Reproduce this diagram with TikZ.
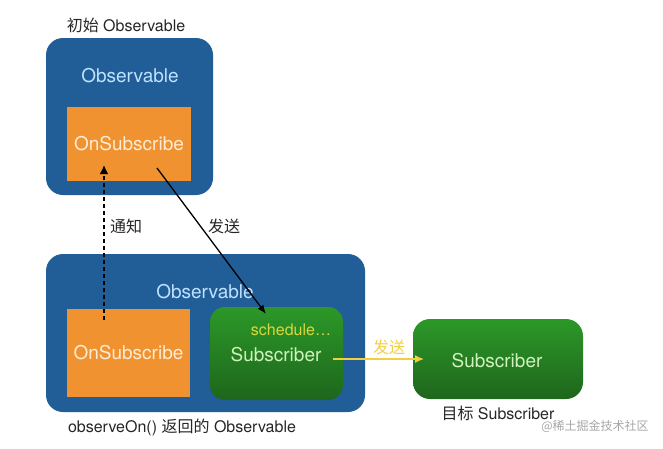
\documentclass[tikz,border=0pt]{standalone}
\usepackage{fontspec}
\setmainfont{TeX Gyre Heros}
\newfontfamily\cjk{Noto Sans CJK SC}
\usepackage{xcolor}
\usepackage{tikz}
\usetikzlibrary{arrows.meta, positioning}
\definecolor{obsblue}{RGB}{33,94,152}
\definecolor{subsorange}{RGB}{240,146,48}
\definecolor{bluetext}{RGB}{192,226,255}
\definecolor{orangetext}{RGB}{255,236,212}
\definecolor{greentop}{RGB}{44,152,40}
\definecolor{greenbot}{RGB}{30,102,28}
\definecolor{greentext}{RGB}{208,242,190}
\definecolor{schedtext}{RGB}{214,216,62}
\definecolor{sendyellow}{RGB}{242,206,66}
\tikzset{
  obsbox/.style={fill=obsblue, rounded corners=17pt, inner sep=0pt},
  onsubbox/.style={fill=subsorange, inner sep=0pt, text=orangetext, font=\fontsize{19}{19}\selectfont},
  subbox/.style={top color=greentop, bottom color=greenbot, rounded corners=15pt, inner sep=0pt},
  boxtitle/.style={font=\fontsize{19}{19}\selectfont},
  caption/.style={font=\fontsize{16}{16}\selectfont, text=black!85},
}

\begin{document}
\begin{tikzpicture}[x=1pt,y=-1pt,inner sep=0pt,outer sep=0pt]
\useasboundingbox (0,0) rectangle (663,448);
% initial observable
\node[obsbox, minimum width=167pt, minimum height=157pt] (obsA) at (129.5,116.5) {};
\node[boxtitle, text=bluetext] (obsAtitle) at (130,76) {Observable};
\node[onsubbox, minimum width=124pt, minimum height=74pt] (onsubA) at (129,144) {OnSubscribe};
\node[caption] (labA) at (126,25) {{\cjk 初始} Observable};
% observable returned by observeOn()
\node[obsbox, minimum width=319pt, minimum height=158pt] (obsB) at (205.5,333) {};
\node[boxtitle, text=bluetext] (obsBtitle) at (205,292) {Observable};
\node[onsubbox, minimum width=123pt, minimum height=88pt] (onsubB) at (128.5,353) {OnSubscribe};
\node[subbox, minimum width=133pt, minimum height=93pt] (subB) at (276.5,353.5) {};
\node[boxtitle, text=greentext] (subBtext) at (276,355) {Subscriber};
\node[font=\fontsize{16}{16}\selectfont, text=schedtext] (subBsched) at (291,330) {schedule\ldots};
\node[caption] (labB) at (182,427) {observeOn() {\cjk 返回的} Observable};
% target subscriber
\node[subbox, rounded corners=17pt, minimum width=170pt, minimum height=80pt] (subC) at (498,359) {};
\node[boxtitle, text=greentext] (subCtext) at (497,361) {Subscriber};
\node[caption] (labC) at (498,413) {{\cjk 目标} Subscriber};
\node[font=\cjk\fontsize{12}{12}\selectfont, text=black!35] (mark) at (595,426) {@稀土掘金技术社区};
% connectors
\coordinate (notifyFrom) at (104,320);
\coordinate (notifyTo) at (104,165);
\coordinate (sendFrom) at (157,168);
\coordinate (sendTo) at (266,314);
\coordinate (passFrom) at (333,359);
\coordinate (passTo) at (424,359);
\draw[line width=2pt, dash pattern=on 4pt off 3pt, -{Latex[length=9pt,width=9pt]}] (notifyFrom) -- (notifyTo);
\draw[line width=1.3pt, -{Latex[length=9pt,width=7pt]}] (sendFrom) -- (sendTo);
\draw[line width=1.5pt, sendyellow, -{Latex[length=9pt,width=8pt]}] (passFrom) -- (passTo);
\node[caption, font=\cjk\fontsize{16}{16}\selectfont] (notifyLab) at (126,226) {通知};
\node[caption, font=\cjk\fontsize{16}{16}\selectfont] (sendLab) at (224,226) {发送};
\node[font=\cjk\fontsize{16}{16}\selectfont, text=sendyellow] (passLab) at (389,347) {发送};
\end{tikzpicture}
\end{document}
